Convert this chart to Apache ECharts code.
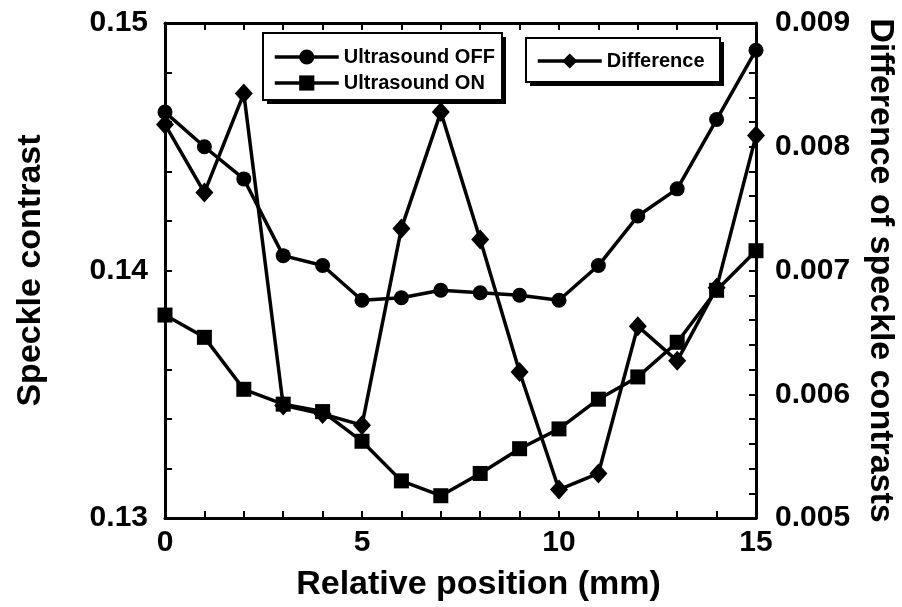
<!DOCTYPE html>
<html>
<head>
<meta charset="utf-8">
<script src="https://cdn.jsdelivr.net/npm/echarts@6/dist/echarts.min.js"></script>
<style>
  html, body { margin: 0; padding: 0; background: #fff; }
  #chart { width: 902px; height: 607px; }
</style>
</head>
<body>
<div id="chart"></div>
<script>
// data
const positions = [0, 1, 2, 3, 4, 5, 6, 7, 8, 9, 10, 11, 12, 13, 14, 15];
const ultrasoundOff = [0.1464, 0.1450, 0.1437, 0.1406, 0.1402, 0.1388, 0.1389, 0.1392, 0.1391, 0.1390, 0.1388, 0.1402, 0.1422, 0.1433, 0.1461, 0.1489];
const ultrasoundOn = [0.1382, 0.1373, 0.1352, 0.1346, 0.1343, 0.1331, 0.1315, 0.1309, 0.1318, 0.1328, 0.1336, 0.1348, 0.1357, 0.1371, 0.1392, 0.1408];
const difference = [0.00818, 0.00763, 0.00843, 0.00591, 0.00584, 0.00575, 0.00734, 0.00828, 0.00725, 0.00618, 0.00523, 0.00536, 0.00655, 0.00627, 0.00686, 0.00809];
const xTickLabels = [0, 5, 10, 15];
const leftTickLabels = [0.13, 0.14, 0.15];
const rightTickLabels = [0.005, 0.006, 0.007, 0.008, 0.009];

const FONT = '"Liberation Sans", Arial, sans-serif';
const near = (v, list) => list.some((t) => Math.abs(v - t) < 1e-9);

const axisLine = { show: true, onZero: false, lineStyle: { color: "#000", width: 3 } };
const axisTick = { show: true, inside: true, length: 7, lineStyle: { color: "#000", width: 2 } };
const labelStyle = { fontSize: 30, fontWeight: "bold", color: "#000", fontFamily: FONT };
const nameStyle = { fontSize: 34, fontWeight: "bold", color: "#000", fontFamily: FONT };
const legendBase = {
  orient: "vertical",
  selectedMode: false,
  itemWidth: 64,
  itemHeight: 19,
  itemGap: 6,
  backgroundColor: "transparent",
  borderWidth: 0,
  lineStyle: { color: "#000", width: 3.5 },
  itemStyle: { color: "#000" },
  textStyle: { fontSize: 20, fontWeight: "bold", color: "#000", fontFamily: FONT },
};
// legend frame with the hard drop shadow
const frame = (x, y, w, h) => [
  { type: "rect", z: 3, shape: { x: x + 4, y: y + 4, width: w, height: h }, style: { fill: "#000" } },
  { type: "rect", z: 3, shape: { x: x, y: y, width: w, height: h }, style: { fill: "#fff", stroke: "#000", lineWidth: 2 } },
];

const pairs = (ys) => positions.map((x, i) => [x, ys[i]]);
const lineSeries = (name, ys, symbol, size, axis) => ({
  name: name,
  type: "line",
  yAxisIndex: axis,
  data: pairs(ys),
  symbol: symbol,
  symbolSize: size,
  lineStyle: { color: "#000", width: 3.5 },
  itemStyle: { color: "#000" },
});

const chart = echarts.init(document.getElementById("chart"));
chart.setOption({
  animation: false,
  backgroundColor: "#fff",
  grid: { left: 165, right: 146, top: 23, bottom: 89, containLabel: false, outerBoundsMode: "none" },
  graphic: frame(263, 33, 239, 67).concat(frame(526, 38, 194, 44)),
  legend: [
    Object.assign({}, legendBase, {
      data: ["Ultrasound OFF", "Ultrasound ON"],
      left: 263,
      top: 33,
      padding: [14, 6, 8, 10],
    }),
    Object.assign({}, legendBase, {
      data: ["Difference"],
      left: 526,
      top: 38,
      padding: [13, 16, 10, 10],
    }),
  ],
  xAxis: [
    {
      type: "value",
      position: "bottom",
      min: 0,
      max: 15,
      interval: 1,
      axisLine: axisLine,
      axisTick: axisTick,
      splitLine: { show: false },
      axisLabel: Object.assign({}, labelStyle, {
        margin: 10,
        formatter: (v) => (near(v, xTickLabels) ? String(Math.round(v)) : ""),
      }),
      name: "Relative position (mm)",
      nameLocation: "middle",
      nameGap: 50,
      nameTextStyle: Object.assign({}, nameStyle, { padding: [0, 0, 0, 36] }),
    },
    {
      type: "value",
      position: "top",
      min: 0,
      max: 15,
      interval: 1,
      axisLine: axisLine,
      axisTick: axisTick,
      splitLine: { show: false },
      axisLabel: { show: false },
    },
  ],
  yAxis: [
    {
      type: "value",
      position: "left",
      min: 0.13,
      max: 0.15,
      interval: 0.002,
      axisLine: axisLine,
      axisTick: axisTick,
      splitLine: { show: false },
      axisLabel: Object.assign({}, labelStyle, {
        margin: 17,
        formatter: (v) => (near(v, leftTickLabels) ? v.toFixed(2) : ""),
      }),
      name: "Speckle contrast",
      nameLocation: "middle",
      nameRotate: 90,
      nameGap: 117,
      nameTextStyle: nameStyle,
    },
    {
      type: "value",
      position: "right",
      min: 0.005,
      max: 0.009,
      interval: 0.0002,
      axisLine: axisLine,
      axisTick: axisTick,
      splitLine: { show: false },
      axisLabel: Object.assign({}, labelStyle, {
        margin: 19,
        formatter: (v) => (near(v, rightTickLabels) ? v.toFixed(3) : ""),
      }),
      name: "Difference of speckle contrasts",
      nameLocation: "middle",
      nameRotate: -90,
      nameGap: 107,
      nameTextStyle: nameStyle,
    },
  ],
  series: [
    lineSeries("Ultrasound OFF", ultrasoundOff, "circle", 15, 0),
    lineSeries("Ultrasound ON", ultrasoundOn, "rect", 15, 0),
    lineSeries("Difference", difference, "diamond", [18, 20], 1),
  ],
});
</script>
</body>
</html>
